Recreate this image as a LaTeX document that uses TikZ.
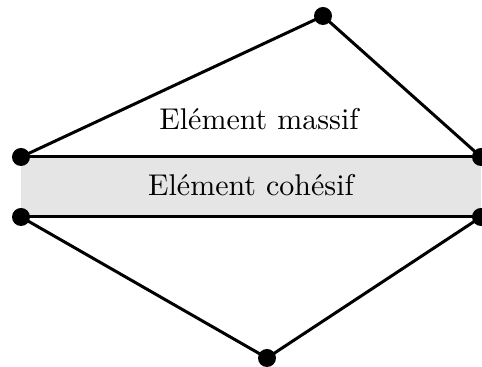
\documentclass[tikz,border=0pt]{standalone}
\begin{document}
\begin{tikzpicture}[x=0.3333pt,y=-0.3333pt,
  edge/.style={line width=1pt},
  dot/.style={circle,fill=black,inner sep=0pt,minimum size=6pt}]
\useasboundingbox (0,0) rectangle (482,367);
\coordinate (lu) at (21,157);
\coordinate (ru) at (481,157);
\coordinate (ll) at (21,217);
\coordinate (rl) at (481,217);
\coordinate (t) at (323,16);
\coordinate (b) at (267,358);
\fill[black!10] (lu) rectangle (rl);
\draw[edge] (lu) -- (ru);
\draw[edge] (ll) -- (rl);
\draw[edge] (lu) -- (t) -- (ru);
\draw[edge] (ll) -- (b) -- (rl);
\foreach \p in {lu,ru,ll,rl,t,b} \node[dot] (d\p) at (\p) {};
\node[anchor=base,inner sep=0pt] (massif) at (259,130) {Elément massif};
\node[anchor=base,inner sep=0pt] (cohesif) at (251,196) {Elément cohésif};
\end{tikzpicture}
\end{document}
